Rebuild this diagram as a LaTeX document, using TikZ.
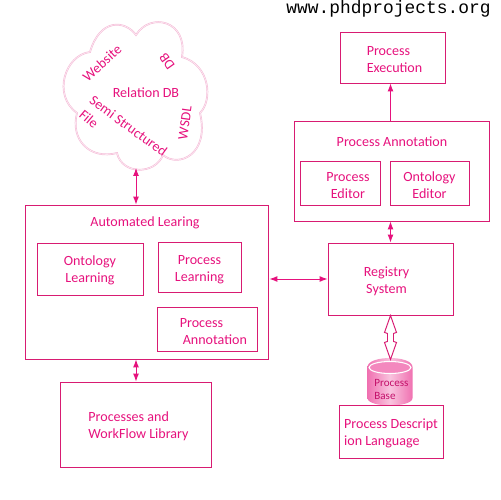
\documentclass[tikz,border=0pt]{standalone}
\usepackage{fontspec}
\setmainfont{Carlito}
\setmonofont{Liberation Mono}
\usetikzlibrary{arrows.meta}
\definecolor{PHDPink}{HTML}{E6127D}
\definecolor{PHDLine}{HTML}{D81B72}
\definecolor{PHDPale}{HTML}{F5BDD8}
\newcommand{\lift}[1]{\rule{0pt}{#1}}

\begin{document}
\begin{tikzpicture}[
    x=0.02cm,y=-0.02cm,
    >={Latex[length=1.6mm,width=1.2mm]},
    box/.style={draw=PHDLine,line width=0.55pt,inner sep=0pt,align=center,font=\fontsize{8}{9.7}\selectfont,text=PHDPink},
    title/.style={inner sep=0pt,font=\fontsize{8}{9.7}\selectfont,text=PHDPink},
    flow/.style={->,line width=0.55pt,draw=PHDPink},
    both/.style={<->,line width=0.55pt,draw=PHDPink},
    tag/.style={inner sep=0pt,font=\fontsize{8}{9.7}\selectfont,text=PHDPink}
  ]
  \path[use as bounding box] (0,0) rectangle (500,500);
  \node[inner sep=0pt,font=\ttfamily\fontsize{10.2}{12}\selectfont] (site) at (388.5,8.5) {www.phdprojects.org};

  % cloud
  \draw[draw=PHDPale,line width=0.4pt,double=white,double distance=0.2pt]
    (136,35) .. controls (125,20) and (100,18) .. (90,52)
    .. controls (65,55) and (52,95) .. (77,113)
    .. controls (70,140) and (90,160) .. (117,153)
    .. controls (122,175) and (155,175) .. (163,155)
    .. controls (178,168) and (210,155) .. (200,113)
    .. controls (213,100) and (210,65) .. (182,57)
    .. controls (188,20) and (150,12) .. (136,35) -- cycle;
  \coordinate (cloudfoot) at (136,168);
  \node[tag,rotate=42] (website) at (102,63) {Website};
  \node[tag,rotate=125] (dbtag) at (167,61) {DB};
  \node[tag] (relation) at (146,93) {Relation DB};
  \node[tag,rotate=-36] (semi) at (128.5,126) {Semi Structured};
  \node[tag,rotate=-40] (filetag) at (89,119) {File};
  \node[tag,rotate=82] (wsdl) at (185,123) {WSDL};

  % left group
  \node[box,minimum width=4.88cm,minimum height=3.08cm] (auto) at (147,282) {};
  \node[title] (autotitle) at (145,223) {Automated Learing};
  \node[box,minimum width=2.12cm,minimum height=1.04cm] (onto) at (90,269) {\lift{7pt}Ontology\\Learning};
  \node[box,minimum width=1.66cm,minimum height=1cm] (learn) at (199.5,267) {\lift{8pt}Process\\Learning};
  \node[box,minimum width=2cm,minimum height=0.88cm,text width=2cm,align=left] (annot) at (207,329)
    {\lift{8pt}\hspace*{13pt}Process\\\hspace*{14.7pt}Annotation};
  \node[box,minimum width=3.02cm,minimum height=1.7cm,align=left] (library) at (135.5,424.5)
    {\lift{8pt}\hspace*{3.4pt}Processes and\\\hspace*{3.4pt}WorkFlow Library};

  % right group
  \node[box,minimum width=2.1cm,minimum height=1.02cm,align=left] (exec) at (392.5,57.5)
    {\lift{7pt}\hspace*{2.3pt}Process\\\hspace*{2.3pt}Execution};
  \node[box,minimum width=3.9cm,minimum height=2cm] (panno) at (391.5,171) {};
  \node[title] (pannotitle) at (392,142) {Process Annotation};
  \node[box,minimum width=1.6cm,minimum height=0.88cm] (edit) at (340,183) {\lift{8pt}\hspace*{9pt}Process\\\hspace*{9pt}Editor};
  \node[box,minimum width=1.58cm,minimum height=0.88cm] (ontoedit) at (429.5,183) {\lift{8pt}Ontology\\Editor};
  \node[box,minimum width=2.5cm,minimum height=1.44cm] (registry) at (390.5,279) {\lift{8pt}Registry\hspace*{4.5pt}\\System\hspace*{4.5pt}};

  % base
  \shade[left color=PHDPink!60,right color=PHDPink!60,middle color=PHDPink!25]
    (367.5,367) -- (367.5,398) .. controls (367.5,408) and (412.5,408) .. (412.5,398)
    -- (412.5,367) .. controls (412.5,355) and (367.5,355) .. (367.5,367) -- cycle;
  \fill[PHDPink!50,draw=white,line width=0.6pt] (390,367.5) ellipse (21 and 6);
  \node[inner sep=0pt,anchor=west,align=left,font=\fontsize{6.3}{7.4}\selectfont,text=PHDPink!85!black] (base) at (374,389.5) {Process\\Base};
  \node[box,minimum width=2.08cm,minimum height=1.06cm,align=left,fill=white] (lang) at (391,431.5) {\lift{8pt}Process Descript\\ion Language};

  % connectors
  \draw[both] (cloudfoot) -- (auto.north -| cloudfoot);
  \draw[both] (auto.south -| cloudfoot) -- (library.north -| cloudfoot);
  \draw[both] (auto.east |- registry) -- (registry.west);
  \draw[both] (panno.south -| registry) -- (registry.north);
  \draw[flow] (panno.north -| registry) -- (exec.south -| registry);
  \draw[draw=PHDLine,line width=0.55pt,fill=white,line join=miter]
    (registry.south) -- ++(6,17) -- ++(-3,1) -- ++(0,8) -- ++(3,1) -- ++(-6,17)
    -- ++(-6,-17) -- ++(3,-1) -- ++(0,-8) -- ++(-3,-1) -- cycle;
\end{tikzpicture}
\end{document}
